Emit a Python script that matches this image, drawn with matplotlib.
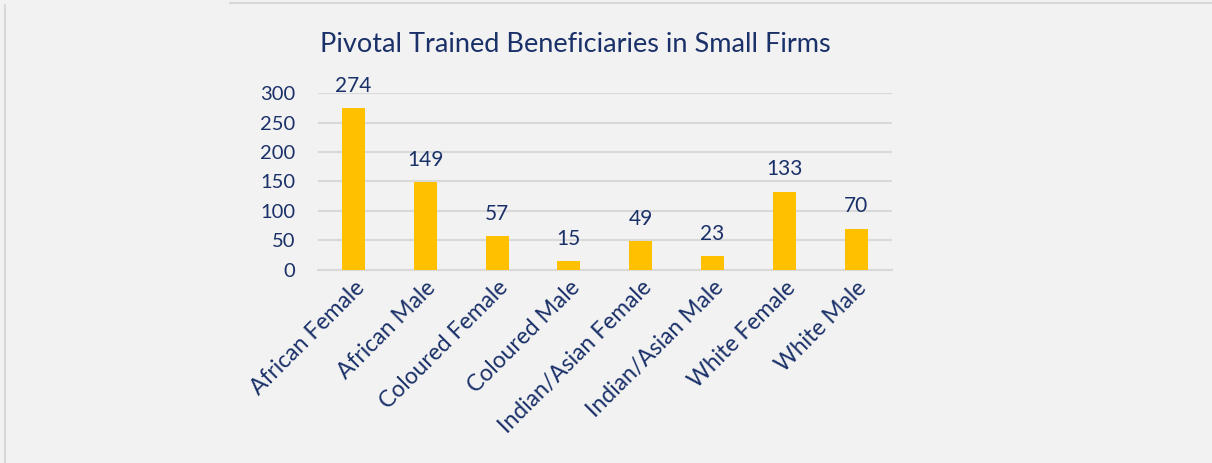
import matplotlib.pyplot as plt
from matplotlib.lines import Line2D

plt.rcParams['font.family'] = ['Lato', 'DejaVu Sans']

categories = ['African Female', 'African Male', 'Coloured Female', 'Coloured Male',
              'Indian/Asian Female', 'Indian/Asian Male', 'White Female', 'White Male']
values = [274, 149, 57, 15, 49, 23, 133, 70]
yticks = [0, 50, 100, 150, 200, 250, 300]

navy = '#1A3068'
gold = '#FFC000'
grid = '#D9D9D9'
bg = '#F2F2F2'

fig = plt.figure(figsize=(12.12, 4.63), dpi=100, facecolor=bg)
ax = fig.add_axes([0.262, 0.417, 0.474, 0.382])
ax.set_facecolor(bg)

x = range(len(categories))
bars = ax.bar(x, values, width=0.32, color=gold, zorder=3)
for b, v in zip(bars, values):
    ax.annotate(str(v), (b.get_x() + b.get_width() / 2, v), xytext=(0, 9),
                textcoords='offset points', ha='center', va='bottom',
                fontsize=15, color=navy, annotation_clip=False)

ax.set_xlim(-0.5, len(categories) - 0.5)
ax.set_ylim(0, 300)
ax.set_yticks(yticks)
ax.grid(axis='y', color=grid, linewidth=1.5, zorder=0)
for s in ['top', 'right', 'left']:
    ax.spines[s].set_visible(False)
ax.spines['bottom'].set_color(grid)
ax.spines['bottom'].set_linewidth(1.5)
ax.tick_params(axis='y', length=0, pad=16, labelsize=14.5, labelcolor=navy)
ax.tick_params(axis='x', length=0, pad=5, labelsize=16.5, labelcolor=navy)
ax.set_xticks(list(x))
ax.set_xticklabels(categories, rotation=45, ha='right', rotation_mode='anchor')

fig.text(0.4745, 0.903, 'Pivotal Trained Beneficiaries in Small Firms',
         ha='center', va='center', fontsize=19.5, color=navy)

# thin frame edges like the source screenshot
fig.add_artist(Line2D([0.004, 0.004], [0, 0.99], color='#D9D9D9', linewidth=1.5))
fig.add_artist(Line2D([0.19, 1.0], [0.993, 0.993], color='#D9D9D9', linewidth=1.5))

fig.savefig('out.png', dpi=100, facecolor=bg)
